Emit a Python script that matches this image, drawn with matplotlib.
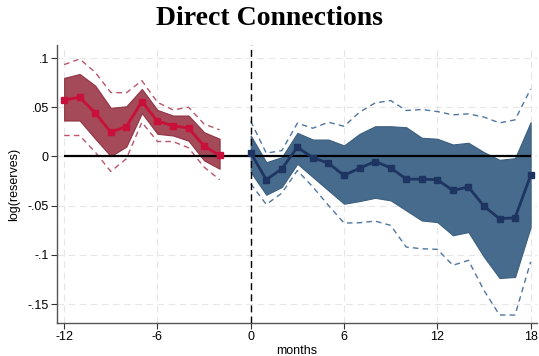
import numpy as np
import matplotlib
matplotlib.use('Agg')
import matplotlib.pyplot as plt

# pre-period (red)
months_pre = [-12, -11, -10, -9, -8, -7, -6, -5, -4, -3, -2]
coef_pre = [0.0575, 0.060, 0.0443, 0.0247, 0.0304, 0.0558, 0.0358, 0.0314, 0.0287, 0.0108, 0.001]
ci90_hi_pre = [0.0798, 0.0838, 0.072, 0.0494, 0.051, 0.0686, 0.0473, 0.0416, 0.0416, 0.0247, 0.018]
ci90_lo_pre = [0.0365, 0.0365, 0.018, 0.0003, 0.010, 0.044, 0.023, 0.0213, 0.016, -0.004, -0.0125]
ci95_hi_pre = [0.0933, 0.099, 0.0855, 0.065, 0.0646, 0.077, 0.055, 0.0473, 0.050, 0.033, 0.027]
ci95_lo_pre = [0.0213, 0.0213, 0.0044, -0.0152, -0.0023, 0.0348, 0.0152, 0.0152, 0.0088, -0.0108, -0.0236]

# post-period (blue)
months_post = list(range(0, 19))
coef_post = [0.0037, -0.0236, -0.0125, 0.0094, -0.0013, -0.0068, -0.0193, -0.0119, -0.0051, -0.0115,
             -0.023, -0.023, -0.0236, -0.0345, -0.031, -0.0504, -0.0632, -0.0622, -0.0193]
ci90_hi_post = [0.0213, -0.0058, -0.0007, 0.024, 0.0172, 0.0172, 0.0112, 0.023, 0.0307, 0.0307,
                0.0297, 0.019, 0.018, 0.0122, 0.0139, 0.0044, -0.0034, -0.0017, 0.0348]
ci90_lo_post = [-0.0159, -0.0389, -0.031, -0.0074, -0.021, -0.0345, -0.048, -0.0453, -0.042, -0.0446,
                -0.0548, -0.065, -0.0666, -0.080, -0.0768, -0.102, -0.1234, -0.1224, -0.0717]
ci95_hi_post = [0.0358, 0.0034, 0.006, 0.0338, 0.0287, 0.0348, 0.0307, 0.045, 0.0544, 0.0568,
                0.0467, 0.0477, 0.0456, 0.0423, 0.0433, 0.040, 0.0341, 0.0372, 0.0686]
ci95_lo_post = [-0.0277, -0.0487, -0.0372, -0.0142, -0.031, -0.0497, -0.0676, -0.0673, -0.0656, -0.070,
                -0.092, -0.0937, -0.0943, -0.1105, -0.1055, -0.136, -0.161, -0.161, -0.107]

xticks = [-12, -6, 0, 6, 12, 18]
yticks = [0.1, 0.05, 0, -0.05, -0.1, -0.15]
ytick_labels = ['.1', '.05', '0', '-.05', '-.1', '-.15']

plt.rcParams['font.family'] = ['Liberation Sans', 'DejaVu Sans']
plt.rcParams['axes.unicode_minus'] = False

fig = plt.figure(figsize=(5.39, 3.56), dpi=100)
ax = fig.add_axes([0.106, 0.093, 0.89, 0.78])

# grid
for yv in yticks:
    ax.axhline(yv, color='#e6e6e6', lw=0.8, ls=(0, (6, 4)), zorder=0)
for xv in xticks:
    ax.axvline(xv, color='#e6e6e6', lw=0.8, ls=(0, (6, 4)), zorder=0)

# red
ax.fill_between(months_pre, ci90_lo_pre, ci90_hi_pre, color='#9a3646', alpha=0.9, lw=0.8,
                edgecolor='#8a2c3c', zorder=2)
ax.plot(months_pre, ci95_hi_pre, color='#b8566a', lw=1.0, ls=(0, (4, 3)), zorder=2)
ax.plot(months_pre, ci95_lo_pre, color='#b8566a', lw=1.0, ls=(0, (4, 3)), zorder=2)

# blue
ax.fill_between(months_post, ci90_lo_post, ci90_hi_post, color='#476b8c', lw=0.8,
                edgecolor='#3c5f80', zorder=2)
ax.plot(months_post, ci95_hi_post, color='#4f76a0', lw=1.0, ls=(0, (4, 3)), zorder=2)
ax.plot(months_post, ci95_lo_post, color='#4f76a0', lw=1.0, ls=(0, (4, 3)), zorder=2)

# zero lines
ax.hlines(0, -12, 18, color='black', lw=1.6, zorder=3)
ax.axvline(0, color='black', lw=1.0, ls=(0, (5, 3)), zorder=3)

ax.plot(months_pre, coef_pre, color='#c8103a', lw=2.0, marker='s', ms=5, zorder=4)
ax.plot(months_post, coef_post, color='#1e3461', lw=2.0, marker='s', ms=5, zorder=4)

ax.set_xlim(-12.45, 18.4)
ax.set_ylim(-0.169, 0.113)
ax.set_xticks(xticks)
ax.set_yticks(yticks)
ax.set_yticklabels(ytick_labels)
ax.tick_params(labelsize=9, length=4, width=0.8, pad=2, colors='#333333', labelcolor='black')
ax.spines['top'].set_visible(False)
ax.spines['right'].set_visible(False)
for s in ['left', 'bottom']:
    ax.spines[s].set_color('#555555')
    ax.spines[s].set_linewidth(1.0)
ax.set_xlabel('months', fontsize=9, labelpad=1)
ax.set_ylabel('log(reserves)', fontsize=9, labelpad=5)

fig.text(0.5, 0.947, 'Direct Connections', ha='center', va='center',
         fontsize=20, fontweight='bold', family='Liberation Serif')

fig.savefig('out.png', dpi=100)
